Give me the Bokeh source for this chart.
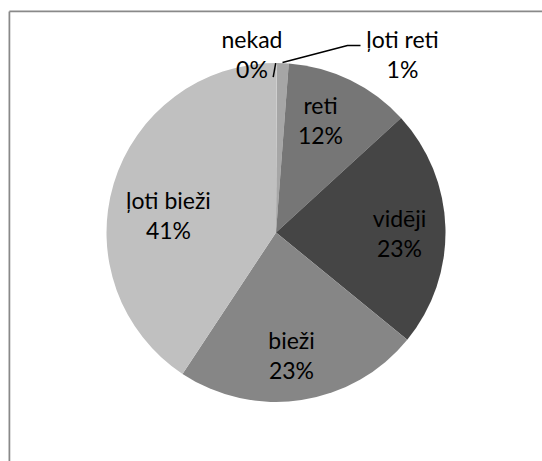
import math
from bokeh.plotting import figure
from bokeh.models import Range1d, ColumnDataSource
from bokeh.core.properties import value
from bokeh.embed import file_html
from bokeh.resources import INLINE

# ---- data ----
categories = ["nekad", "ļoti reti", "reti", "vidēji", "bieži", "ļoti bieži"]
shares = [0.1, 1.1, 12.0, 22.7, 23.4, 40.7]
colors = ["#D0D0D0", "#A6A6A6", "#767676", "#454545", "#868686", "#C0C0C0"]

# ---- layout (pixel-like data units: 1 unit = 1 px, y up) ----
W, H = 542, 461
cx, cy, r = 275.5, 229.0, 169.5
# label block centres (x, y) in the same units
label_xy = [(251.5, 407.5), (402.0, 407.5), (320.0, 341.5),
            (399.0, 228.3), (291.0, 107.0), (168.0, 246.5)]
gap = 15.0

total = sum(shares)
starts, ends = [], []
acc = 0.0
for v in shares:
    starts.append(math.pi / 2 - 2 * math.pi * acc / total)
    acc += v
    ends.append(math.pi / 2 - 2 * math.pi * acc / total)

src = ColumnDataSource(dict(cat=categories, v=shares, color=colors,
                            start=starts, end=ends))

p = figure(width=W, height=H, output_backend="svg", toolbar_location=None,
           x_range=Range1d(0, W), y_range=Range1d(0, H),
           min_border=0, outline_line_color=None)
p.axis.visible = False
p.grid.visible = False
p.background_fill_color = "white"
p.border_fill_color = "white"

# chart area border (only left and top are visible in the frame)
p.line(x=[8.9, 8.9], y=[0, 450.1], line_color="#898989", line_width=1.75)
p.line(x=[8.9, W], y=[450.1, 450.1], line_color="#898989", line_width=1.75)

p.wedge(x=cx, y=cy, radius=r, start_angle="start", end_angle="end",
        direction="clock", fill_color="color", line_color=None, source=src)

# leader lines
p.line(x=[272.7, 275.2], y=[384.3, 398.3], line_color="black", line_width=1.5)
p.line(x=[282.0, 347.0, 360.0], y=[399.0, 416.0, 416.0],
       line_color="black", line_width=1.5)

pcts = [f"{round(100 * v / total)}%" for v in shares]
lab = ColumnDataSource(dict(
    x=[xy[0] for xy in label_xy],
    y1=[xy[1] + gap for xy in label_xy],
    y2=[xy[1] - gap for xy in label_xy],
    name=categories, pct=pcts))
for ycol, tcol in (("y1", "name"), ("y2", "pct")):
    p.text(x="x", y=ycol, text=tcol, source=lab, text_align="center",
           text_baseline="middle", text_font=value("Lato"),
           text_font_size="23px", text_color="black")

open("out.html", "w").write(file_html(p, INLINE))
